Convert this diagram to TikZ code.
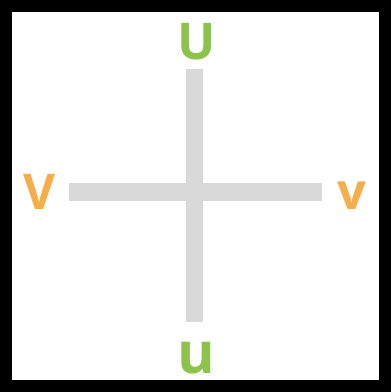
\documentclass[tikz,border=0pt]{standalone}
\usepackage{fontspec}
\setmainfont{Open Sans}
\usepackage{tikz}
\usetikzlibrary{positioning}
\definecolor{uvgreen}{RGB}{141,195,74}
\definecolor{uvorange}{RGB}{247,174,74}
\definecolor{bargray}{RGB}{217,217,217}

\begin{document}
\begin{tikzpicture}[
    x=0.75pt, y=-0.75pt,
    frame/.style={draw=black, line width=9pt},
    bar/.style={draw=bargray, line width=13.1pt},
    ulab/.style={text=uvgreen, inner sep=0pt, font=\bfseries},
    vlab/.style={text=uvorange, inner sep=0pt, font=\bfseries},
]
\useasboundingbox (0,0) rectangle (391,392);
\draw[frame] (6,6) rectangle (385,386);

\coordinate (top) at (194.5,69);
\coordinate (bot) at (194.5,322);
\coordinate (lft) at (69,192);
\coordinate (rgt) at (322,192);
\draw[bar] (top) -- (bot);
\draw[bar] (lft) -- (rgt);

\node[ulab, font=\fontsize{38}{38}\bfseries\selectfont] (bigU) at (197,42) {U};
\node[ulab, font=\fontsize{43}{43}\bfseries\selectfont] (smallu) at (196,358.5) {u};
\node[vlab, font=\fontsize{37}{37}\bfseries\selectfont] (bigV) at (39.5,191.5) {V};
\node[vlab, font=\fontsize{38}{38}\bfseries\selectfont] (smallv) at (351.5,195.5) {v};

\end{tikzpicture}
\end{document}
